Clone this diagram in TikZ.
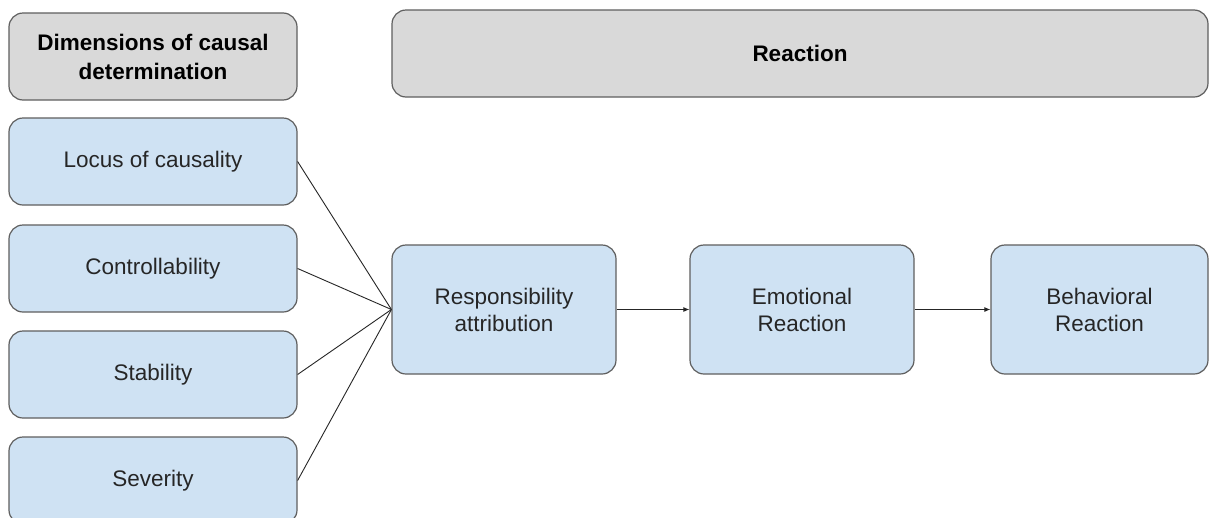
\documentclass[tikz,border=0pt]{standalone}
\usepackage{fontspec}
\setmainfont{Liberation Sans}
\usetikzlibrary{arrows.meta}
\definecolor{boxblue}{HTML}{CFE2F3}
\definecolor{boxgray}{HTML}{D9D9D9}
\definecolor{edgegray}{HTML}{5F5F5F}
\definecolor{inkgray}{HTML}{262626}
\tikzset{
  card/.style={draw=edgegray, line width=1.2pt, rounded corners=14pt,
    inner sep=0pt, align=center, text=inkgray,
    font=\fontsize{22.5}{27}\selectfont},
  dimbox/.style={card, fill=boxblue, minimum width=288pt, minimum height=87pt},
  stagebox/.style={card, fill=boxblue, minimum height=129pt},
  headbox/.style={card, fill=boxgray, text=black,
    font=\fontsize{22.5}{29}\selectfont\bfseries},
  link/.style={draw=inkgray, line width=0.9pt},
  flow/.style={link, -{Latex[length=6pt,width=5pt]}}
}
\begin{document}
\begin{tikzpicture}[x=1pt,y=-1pt]
  \useasboundingbox (0,0) rectangle (1209,517);
  \fill[white] (0,0) rectangle (1209,517);
  \clip (0,0) rectangle (1209,517);

  % column headers
  \node[headbox, minimum width=288pt, minimum height=87pt] (dimhead) at (153,56.5)
    {Dimensions of causal\\determination};
  \node[headbox, minimum width=816pt, minimum height=87pt] (reachead) at (800,53.5)
    {Reaction};

  % dimensions of causal determination
  \node[dimbox] (locus) at (153,161.5) {Locus of causality};
  \node[dimbox] (control) at (153,268.5) {Controllability};
  \node[dimbox] (stab) at (153,374.5) {Stability};
  \node[dimbox] (sev) at (153,480.5) {Severity};

  % reaction chain
  \node[stagebox, minimum width=224pt] (resp) at (504,309.5)
    {Responsibility\\attribution};
  \node[stagebox, minimum width=224pt] (emo) at (802,309.5)
    {Emotional\\Reaction};
  \node[stagebox, minimum width=217pt] (beh) at (1099.5,309.5)
    {Behavioral\\Reaction};

  % connectors
  \foreach \d in {locus,control,stab,sev}
    \draw[link] (\d.east) -- (resp.west);
  \draw[flow] (resp.east) -- (emo.west);
  \draw[flow] (emo.east) -- (beh.west);
\end{tikzpicture}
\end{document}
